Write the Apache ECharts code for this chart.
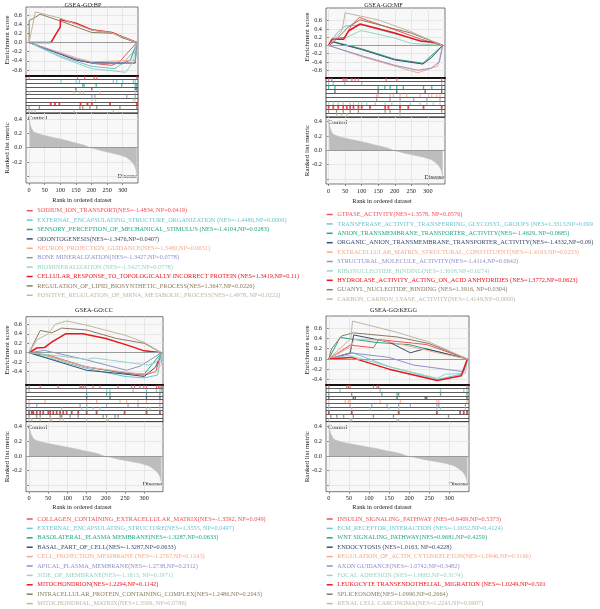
<!DOCTYPE html>
<html>
<head>
    <meta charset="UTF-8"/>
    <script type="text/javascript" src="https://cdn.jsdelivr.net/npm/echarts@6.0.0/dist/echarts.min.js"></script>
    <title>GSEA</title>
    <style>
        html, body {margin: 0; padding: 0; background: #fff}
        #main {width: 600px; height: 609px}
    </style>
</head>
<body>
<div id="main"></div>
<script type="text/javascript">
    var serif = '"Liberation Serif", "Times New Roman", serif'
    var palette = ['#F0525A', '#6CC5D5', '#1FA886', '#3D4A6B', '#F6A98E', '#8E91C9', '#93D5C5', '#E8161D', '#8D7A5E', '#C2B5A3']

    // tick labels
    var rankTicks = [0, 50, 100, 150, 200, 250, 300]
    var esTicksWide = [-0.6, -0.4, -0.2, 0, 0.2, 0.4, 0.6]
    var esTicksShort = [-0.4, -0.2, 0, 0.2, 0.4, 0.6]
    var metricTicks = [-0.4, -0.2, 0, 0.2, 0.4]
    var metricLabels = [-0.2, 0, 0.2, 0.4]

    // ranked list metric (same ordered dataset in every panel)
    var metricRank = [0, 2, 5, 10, 15, 20, 30, 40, 50, 60, 80, 100, 120, 140, 160, 180, 195, 210, 230, 250, 270, 290, 300, 310, 320, 330, 335, 340, 343, 345]
    var metricValue = [0.44, 0.36, 0.30, 0.25, 0.22, 0.21, 0.195, 0.18, 0.17, 0.16, 0.14, 0.12, 0.10, 0.075, 0.055, 0.03, 0.0, -0.015, -0.04, -0.06, -0.08, -0.10, -0.115, -0.13, -0.16, -0.20, -0.23, -0.27, -0.32, -0.38]

    // ---- GO:BP
    var bpTerms = [
        'SODIUM_ION_TRANSPORT(NES=-1.4834, NP=0.0419)',
        'EXTERNAL_ENCAPSULATING_STRUCTURE_ORGANIZATION (NES=-1.4486,NP=0.0000)',
        'SENSORY_PERCEPTION_OF_MECHANICAL_STIMULUS (NES=-1.4104,NP=0.0283)',
        'ODONTOGENESIS(NES=-1.3476,NP=0.0407)',
        'NEURON_PROJECTION_GUIDANCE(NES=-1.3460,NP=0.0651)',
        'BONE MINERALIZATION(NES=-1.3427,NP=0.0778)',
        'BIOMINERALIZATION (NES=-1.3427,NP=0.0778)',
        'CELLULAR_RESPONSE_TO_TOPOLOGICALLY INCORRECT PROTEIN (NES=1.3419,NP=0.11)',
        'REGULATION_OF_LIPID_BIOSYNTHETIC_PROCESS(NES=1.3647,NP=0.0226)',
        'POSITIVE_REGULATION_OF_MRNA_METABOLIC_PROCESS(NES=1.4978, NP=0.0222)'
    ]
    var bpCurves = [
        [[0, 0], [150, -0.38], [200, -0.45], [265, -0.5], [290, -0.42], [345, 0]],
        [[0, 0], [100, -0.3], [200, -0.52], [275, -0.57], [300, -0.45], [335, -0.2], [345, 0]],
        [[0, 0], [150, -0.37], [210, -0.46], [300, -0.46], [325, -0.38], [345, 0]],
        [[0, 0], [150, -0.38], [200, -0.44], [340, -0.45], [345, 0]],
        [[0, 0], [150, -0.33], [200, -0.42], [300, -0.4], [340, -0.38], [345, 0]],
        [[0, 0], [150, -0.36], [215, -0.46], [340, -0.44], [345, 0]],
        [[0, 0], [100, -0.32], [200, -0.57], [310, -0.65], [335, -0.4], [340, -0.1], [345, 0]],
        [[0, 0], [70, 0], [100, 0.34], [100, 0.5], [150, 0.42], [200, 0.28], [265, 0.22], [300, 0.12], [345, 0]],
        [[0, 0], [0, 0.48], [20, 0.55], [35, 0.62], [100, 0.47], [200, 0.22], [270, 0.2], [300, 0.1], [345, 0]],
        [[0, 0], [20, 0.67], [100, 0.53], [200, 0.27], [260, 0.22], [300, 0.12], [345, 0]]
    ]
    var bpHits = [
        [0, 155, 178, 209, 217, 345],
        [102, 151, 161, 270, 281, 300, 334, 340],
        [172, 176, 215, 297, 340, 345],
        [150, 201, 340, 345],
        [0, 144, 163, 174, 227, 340],
        [201, 211, 313, 340],
        [201, 213, 334, 340],
        [69, 83, 97, 165, 187, 201, 259, 345],
        [0, 33, 163, 172, 195, 217, 291, 345],
        [0, 9, 19, 144, 270]
    ]

    // ---- GO:MF
    var mfTerms = [
        'GTPASE_ACTIVITY(NES=1.3578, NP=0.0576)',
        'TRANSFERASE_ACTIVITY_TRANSFERRING_GLYCOSYL_GROUPS (NES=1.3313,NP=0.099',
        'ANION_TRANSMEMBRANE_TRANSPORTER_ACTIVITY(NES=-1.4629, NP=0.0685)',
        'ORGANIC_ANION_TRANSMEMBRANE_TRANSPORTER_ACTIVITY(NES=-1.4332,NP=0.09)',
        'EXTRACELLULAR_MATRIX_STRUCTURAL_CONSTITUENT(NES=-1.4193,NP=0.0233)',
        'STRUCTURAL_MOLECULE_ACTIVITY(NES=-1.4114,NP=0.0642)',
        'RIBONUCLEOTIDE_BINDING(NES=1.3608,NP=0.0274)',
        'HYDROLASE_ACTIVITY_ACTING_ON_ACID ANHYDRIDES (NES=1.3772,NP=0.0623)',
        'GUANYL_NUCLEOTIDE_BINDING (NES=1.3916, NP=0.0304)',
        'CARBON_CARBON_LYASE_ACTIVITY(NES=1.4149,NP=0.0000)'
    ]
    var mfCurves = [
        [[0, 0], [10, 0.15], [50, 0.2], [70, 0.5], [93, 0.68], [120, 0.6], [200, 0.38], [280, 0.15], [345, 0]],
        [[0, 0], [25, 0.3], [50, 0.47], [100, 0.5], [200, 0.28], [280, 0.12], [345, 0]],
        [[0, 0], [15, 0.09], [100, -0.08], [200, -0.33], [285, -0.43], [320, -0.18], [345, 0]],
        [[0, 0], [15, 0.08], [100, -0.1], [200, -0.35], [285, -0.45], [310, -0.3], [345, 0]],
        [[0, 0], [100, -0.27], [200, -0.5], [270, -0.66], [300, -0.58], [330, -0.5], [345, 0]],
        [[0, 0], [100, -0.25], [200, -0.48], [270, -0.6], [310, -0.55], [335, -0.4], [345, 0]],
        [[0, 0], [10, 0.14], [50, 0.18], [90, 0.33], [100, 0.36], [200, 0.18], [250, 0.05], [345, 0]],
        [[0, 0], [10, 0.15], [45, 0.15], [60, 0.35], [95, 0.52], [200, 0.3], [280, 0.1], [320, 0.08], [345, 0]],
        [[0, 0], [20, 0.12], [60, 0.45], [95, 0.62], [200, 0.4], [250, 0.3], [345, 0]],
        [[0, 0], [40, 0.35], [50, 0.79], [150, 0.62], [250, 0.33], [345, 0]]
    ]
    var mfHits = [
        [0, 9, 44, 49, 55, 70, 80, 90, 174, 206, 342],
        [0, 14, 49, 100, 342],
        [0, 19, 150, 170, 186, 206, 226, 287, 312, 342],
        [19, 150, 206, 292, 342],
        [145, 150, 186, 196, 216, 236, 277, 302, 312, 327, 337],
        [145, 186, 216, 257, 297, 337],
        [0, 14, 29, 44, 65, 75, 90, 100, 115, 141, 171, 191, 216, 247, 277, 297, 317, 337],
        [0, 14, 29, 44, 55, 65, 75, 90, 100, 125, 171, 181, 216, 241, 287, 342],
        [0, 24, 44, 65, 90, 171, 186, 216, 342],
        [24, 39, 55, 216]
    ]

    // ---- GO:CC
    var ccTerms = [
        'COLLAGEN_CONTAINING_EXTRACELLULAR_MATRIX(NES=-1.3592, NP=0.049)',
        'EXTERNAL_ENCAPSULATING_STRUCTURE(NES=1.3555, NP=0.0497)',
        'BASOLATERAL_PLASMA MEMBRANE(NES=-1.3287,NP=0.0633)',
        'BASAL_PART_OF_CELL(NES=-1.3287,NP=0.0633)',
        'CELL_PROJECTION_MEMBRANE (NES=-1.2767,NP=0.1243)',
        'APICAL_PLASMA_MEMBRANE(NES=-1.2738,NP=0.2312)',
        'SIDE_OF_MEMBRANE(NES=-1.1813, NP=0.1971)',
        'MITOCHONDRION(NES=1.2294,NP=0.1142)',
        'INTRACELLULAR_PROTEIN_CONTAINING_COMPLEX(NES=1.2486,NP=0.2043)',
        'MITOCHONDRIAL_MATRIX(NES=1.3506, NP=0.0786)'
    ]
    var ccCurves = [
        [[0, 0], [50, -0.05], [150, -0.3], [250, -0.43], [300, -0.47], [330, -0.4], [345, 0]],
        [[0, 0], [150, -0.33], [250, -0.5], [300, -0.53], [335, -0.47], [345, 0]],
        [[0, 0], [40, -0.05], [150, -0.3], [250, -0.43], [300, -0.45], [320, -0.25], [345, 0]],
        [[0, 0], [150, -0.37], [250, -0.45], [300, -0.5], [330, -0.3], [345, 0]],
        [[0, 0], [20, 0], [150, -0.3], [290, -0.45], [330, -0.4], [345, -0.25], [345, 0]],
        [[0, 0], [40, 0.05], [150, -0.15], [254, -0.37], [290, -0.28], [345, 0]],
        [[0, 0], [50, -0.04], [150, -0.14], [170, -0.11], [270, -0.22], [310, -0.26], [335, -0.18], [345, 0]],
        [[0, 0], [20, 0.1], [40, 0.11], [60, 0.23], [95, 0.4], [140, 0.4], [200, 0.3], [260, 0.15], [300, 0.04], [345, 0]],
        [[0, 0], [29, 0.47], [59, 0.42], [85, 0.52], [150, 0.48], [228, 0.3], [300, 0.2], [345, 0]],
        [[0, 0], [20, 0.27], [50, 0.4], [68, 0.6], [98, 0.67], [150, 0.58], [250, 0.37], [300, 0.22], [345, 0]]
    ]
    var ccHits = [
        [0, 29, 76, 133, 137, 142, 148, 167, 185, 232, 267, 275, 289, 299, 306, 332, 337, 341, 345],
        [0, 150, 202, 211, 271, 306, 332, 341, 345],
        [150, 202, 211, 306, 341],
        [150, 211, 306, 341],
        [0, 42, 150, 176, 237, 254, 284, 306, 341],
        [0, 20, 133, 150, 202, 258, 284, 341],
        [0, 85, 137, 150, 167, 185, 306, 315, 341],
        [0, 7, 11, 20, 29, 37, 50, 55, 63, 72, 81, 89, 98, 111, 128, 150, 176, 249, 306, 341],
        [0, 20, 29, 55, 81, 85, 107, 128, 193, 202, 224, 232],
        [0, 7, 29, 55, 59, 81, 89, 150, 202, 206]
    ]

    // ---- KEGG
    var keggTerms = [
        'INSULIN_SIGNALING_PATHWAY (NES=0.9469,NP=0.5373)',
        'ECM_RECEPTOR_INTERACTION (NES=-1.0032,NP=0.4124)',
        'WNT SIGNALING_PATHWAY(NES=0.9681,NP=0.4259)',
        'ENDOCYTOSIS (NES=1.0163, NP=0.4228)',
        'REGULATION_OF_ACTIN_CYTOSKELETON(NES=1.0946,NP=0.3166)',
        'AXON GUIDANCE(NES=-1.0742,NP=0.3482)',
        'FOCAL ADHESION (NES=-1.0682,NP=0.3174)',
        'LEUKOCYTE TRANSENDOTHELIAL_MIGRATION (NES=-1.0249,NP=0.501',
        'SPLICEOSOME(NES=1.0990,NP=0.2664)',
        'RENAL CELL CARCINOMA(NES=1.2243,NP=0.0907)'
    ]
    var keggCurves = [
        [[0, 0], [53, 0.27], [111, 0.22], [124, 0.38], [244, 0.28], [345, 0]],
        [[0, 0], [45, 0.1], [60, 0.12], [150, -0.15], [270, -0.4], [330, -0.3], [345, 0]],
        [[0, 0], [28, 0.42], [120, 0.32], [200, 0.28], [345, 0]],
        [[0, 0], [53, 0.11], [62, 0.47], [150, 0.33], [203, 0.12], [240, 0.2], [345, 0]],
        [[0, 0], [57, 0.25], [62, 0.38], [128, 0.37], [200, 0.25], [270, 0.12], [345, 0]],
        [[0, 0], [53, 0.12], [150, 0.03], [211, -0.12], [336, -0.25], [345, 0]],
        [[0, 0], [50, 0.07], [150, -0.15], [270, -0.38], [290, -0.3], [340, -0.28], [345, 0]],
        [[0, 0], [55, 0.03], [150, -0.2], [270, -0.42], [330, -0.33], [345, 0]],
        [[0, 0], [7, 0.2], [32, 0.45], [61, 0.51], [170, 0.43], [250, 0.3], [345, 0]],
        [[0, 0], [55, 0.4], [59, 0.74], [170, 0.52], [250, 0.33], [345, 0]]
    ]
    var keggHits = [
        [0, 45, 49, 53, 111, 120, 124, 344],
        [0, 28, 128, 278, 336, 344],
        [0, 57, 132, 170, 174, 278, 344],
        [0, 61, 66, 170, 240, 244, 344],
        [0, 41, 49, 53, 128, 178, 269, 274, 344],
        [0, 53, 107, 145, 174, 203, 269, 274, 340],
        [0, 57, 103, 149, 174, 269, 278, 340],
        [0, 57, 174, 269, 327, 336, 344],
        [5, 20, 37, 61, 111, 161, 298],
        [0, 53, 57, 170, 174]
    ]

    // panel layout (pixels) and axis ranges
    var panels = [
        {title: 'GSEA-GO:BP', terms: bpTerms, curves: bpCurves, hits: bpHits, esTicks: esTicksWide,
            left: 26, width: 112, esTop: 7, esH: 69, hitH: 37, rkH: 70,
            esMin: -0.731, esMax: 0.775, xMin: -10, xMax: 349, rkMin: -0.492, rkMax: 0.484,
            titleX: 83, titleY: 5, esNameY: 40, xNameX: 82, xNameY: 200, legendX: 26.7, legendY: 210.7},
        {title: 'GSEA-GO:MF', terms: mfTerms, curves: mfCurves, hits: mfHits, esTicks: esTicksWide,
            left: 326, width: 119, esTop: 8, esH: 69.7, hitH: 39.3, rkH: 67,
            esMin: -0.78, esMax: 0.907, xMin: -8, xMax: 352, rkMin: -0.471, rkMax: 0.466,
            titleX: 383.5, titleY: 5, esNameY: 37, xNameX: 382, xNameY: 201.5, legendX: 326.7, legendY: 214.5},
        {title: 'GSEA-GO:CC', terms: ccTerms, curves: ccCurves, hits: ccHits, esTicks: esTicksShort,
            left: 26, width: 137, esTop: 316.7, esH: 68.3, hitH: 36.7, rkH: 70,
            esMin: -0.68, esMax: 0.76, xMin: -8, xMax: 349, rkMin: -0.487, rkMax: 0.468,
            titleX: 94, titleY: 310, esNameY: 350, xNameX: 82, xNameY: 507.3, legendX: 26.7, legendY: 519},
        {title: 'GSEA-GO:KEGG', terms: keggTerms, curves: keggCurves, hits: keggHits, esTicks: esTicksShort,
            left: 326, width: 143, esTop: 316, esH: 69, hitH: 36.7, rkH: 70,
            esMin: -0.51, esMax: 0.84, xMin: -7, xMax: 349, rkMin: -0.487, rkMax: 0.468,
            titleX: 393.5, titleY: 310, esNameY: 350, xNameX: 382, xNameY: 507.3, legendX: 326.7, legendY: 519}
    ]

    var font = '6.3px ' + serif
    var nameFont = '7px ' + serif
    var grids = [], xAxes = [], yAxes = [], series = [], graphics = []

    function txt(x, y, s, align, color, rot, f) {
        graphics.push({
            type: 'text', x: x, y: y, rotation: rot || 0, silent: true,
            style: {text: s, font: f || font, fill: color || '#222', textAlign: align || 'center', textVerticalAlign: 'middle'}
        })
    }

    var zeroLine = {
        silent: true, symbol: ['none', 'none'], label: {show: false},
        lineStyle: {color: '#9A9A9A', type: 'solid', width: 1}, data: [{yAxis: 0}]
    }

    panels.forEach(function (p, k) {
        var g = k * 3
        var hitTop = p.esTop + p.esH
        var rkTop = hitTop + p.hitH
        var rowH = p.hitH / 10
        var frame = {show: true, backgroundColor: '#F8F8F8', borderColor: '#555', borderWidth: 0.8, containLabel: false, outerBoundsMode: 'none'}

        grids.push(Object.assign({left: p.left, top: p.esTop, width: p.width, height: p.esH}, frame))
        grids.push({left: p.left, top: hitTop, width: p.width, height: p.hitH, show: true, backgroundColor: '#fff',
            borderColor: '#222', borderWidth: 0.8, containLabel: false, outerBoundsMode: 'none'})
        grids.push(Object.assign({left: p.left, top: rkTop, width: p.width, height: p.rkH}, frame))

        var split = {show: true, lineStyle: {color: '#E2E2E2', width: 0.8}}
        // enrichment score axes
        xAxes.push({gridIndex: g, type: 'value', min: p.xMin, max: p.xMax,
            axisLine: {show: false}, axisLabel: {show: false},
            axisTick: {show: false, customValues: rankTicks}, splitLine: split})
        yAxes.push({gridIndex: g, type: 'value', min: p.esMin, max: p.esMax,
            axisLine: {show: false},
            axisTick: {show: true, length: 2, customValues: p.esTicks, lineStyle: {color: '#444', width: 0.6}},
            axisLabel: {customValues: p.esTicks, fontSize: 6.3, fontFamily: serif, color: '#222', margin: 4,
                formatter: function (v) { return v.toFixed(1) }},
            splitLine: split})
        // hits axes
        xAxes.push({gridIndex: g + 1, type: 'value', min: p.xMin, max: p.xMax, position: 'top',
            axisLine: {show: true, onZero: false, lineStyle: {color: '#111', width: 2}},
            axisLabel: {show: false}, axisTick: {show: false}, splitLine: {show: false}})
        yAxes.push({gridIndex: g + 1, type: 'value', min: 0, max: 10, interval: 1, inverse: true,
            axisLine: {show: false}, axisLabel: {show: false}, axisTick: {show: false},
            splitLine: {show: true, lineStyle: {color: '#333', width: 0.8}}})
        // ranked metric axes
        xAxes.push({gridIndex: g + 2, type: 'value', min: p.xMin, max: p.xMax,
            axisLine: {show: false, onZero: false},
            axisTick: {show: true, length: 2, customValues: rankTicks, lineStyle: {color: '#444', width: 0.6}},
            axisLabel: {customValues: rankTicks, fontSize: 6.3, fontFamily: serif, color: '#222', margin: 4},
            splitLine: split})
        yAxes.push({gridIndex: g + 2, type: 'value', min: p.rkMin, max: p.rkMax,
            axisLine: {show: false},
            axisTick: {show: true, length: 2, customValues: metricTicks, lineStyle: {color: '#444', width: 0.6}},
            axisLabel: {customValues: metricLabels, fontSize: 6.3, fontFamily: serif, color: '#222', margin: 4,
                formatter: function (v) { return v.toFixed(1) }},
            splitLine: split})

        p.curves.forEach(function (c, i) {
            series.push({type: 'line', name: p.terms[i], xAxisIndex: g, yAxisIndex: g, data: c,
                symbol: 'none', silent: true, animation: false, z: 3,
                lineStyle: {color: palette[i], width: i === 7 ? 1.5 : 1},
                markLine: i === 0 ? zeroLine : undefined})
        })
        p.hits.forEach(function (h, i) {
            series.push({type: 'scatter', xAxisIndex: g + 1, yAxisIndex: g + 1, silent: true, animation: false,
                data: h.map(function (r) { return [r, i + 0.5] }),
                symbol: 'rect', symbolSize: [i === 7 ? 1.8 : 1.3, rowH - 0.6],
                itemStyle: {color: palette[i]}})
        })
        series.push({type: 'line', xAxisIndex: g + 2, yAxisIndex: g + 2, silent: true, animation: false,
            data: metricRank.map(function (r, j) { return [r, metricValue[j]] }),
            symbol: 'none', lineStyle: {color: '#BDBDBD', width: 0.5},
            areaStyle: {color: '#BDBDBD', opacity: 1}, markLine: zeroLine})

        // texts
        txt(p.titleX, p.titleY, p.title)
        txt(p.left - 19, p.esNameY, 'Enrichment score', 'center', '#222', Math.PI / 2, nameFont)
        txt(p.left - 19, rkTop + p.rkH / 2, 'Ranked list metric', 'center', '#222', Math.PI / 2, nameFont)
        txt(p.xNameX, p.xNameY, 'Rank in ordered dataset')
        txt(p.left + 2, rkTop + 5.5, 'Control', 'left')
        txt(p.left + p.width - 1, rkTop + p.rkH - 7, 'Disease', 'right')

        p.terms.forEach(function (t, i) {
            var y = p.legendY + i * 9.4
            graphics.push({type: 'rect', silent: true,
                shape: {x: p.legendX, y: y - 0.75, width: 6, height: 1.5}, style: {fill: palette[i]}})
            txt(p.legendX + 10.6, y, t, 'left', palette[i])
        })
    })

    var myChart = echarts.init(document.getElementById('main'))
    myChart.setOption({
        animation: false,
        backgroundColor: '#fff',
        grid: grids,
        xAxis: xAxes,
        yAxis: yAxes,
        series: series,
        graphic: graphics
    })
</script>
</body>
</html>
